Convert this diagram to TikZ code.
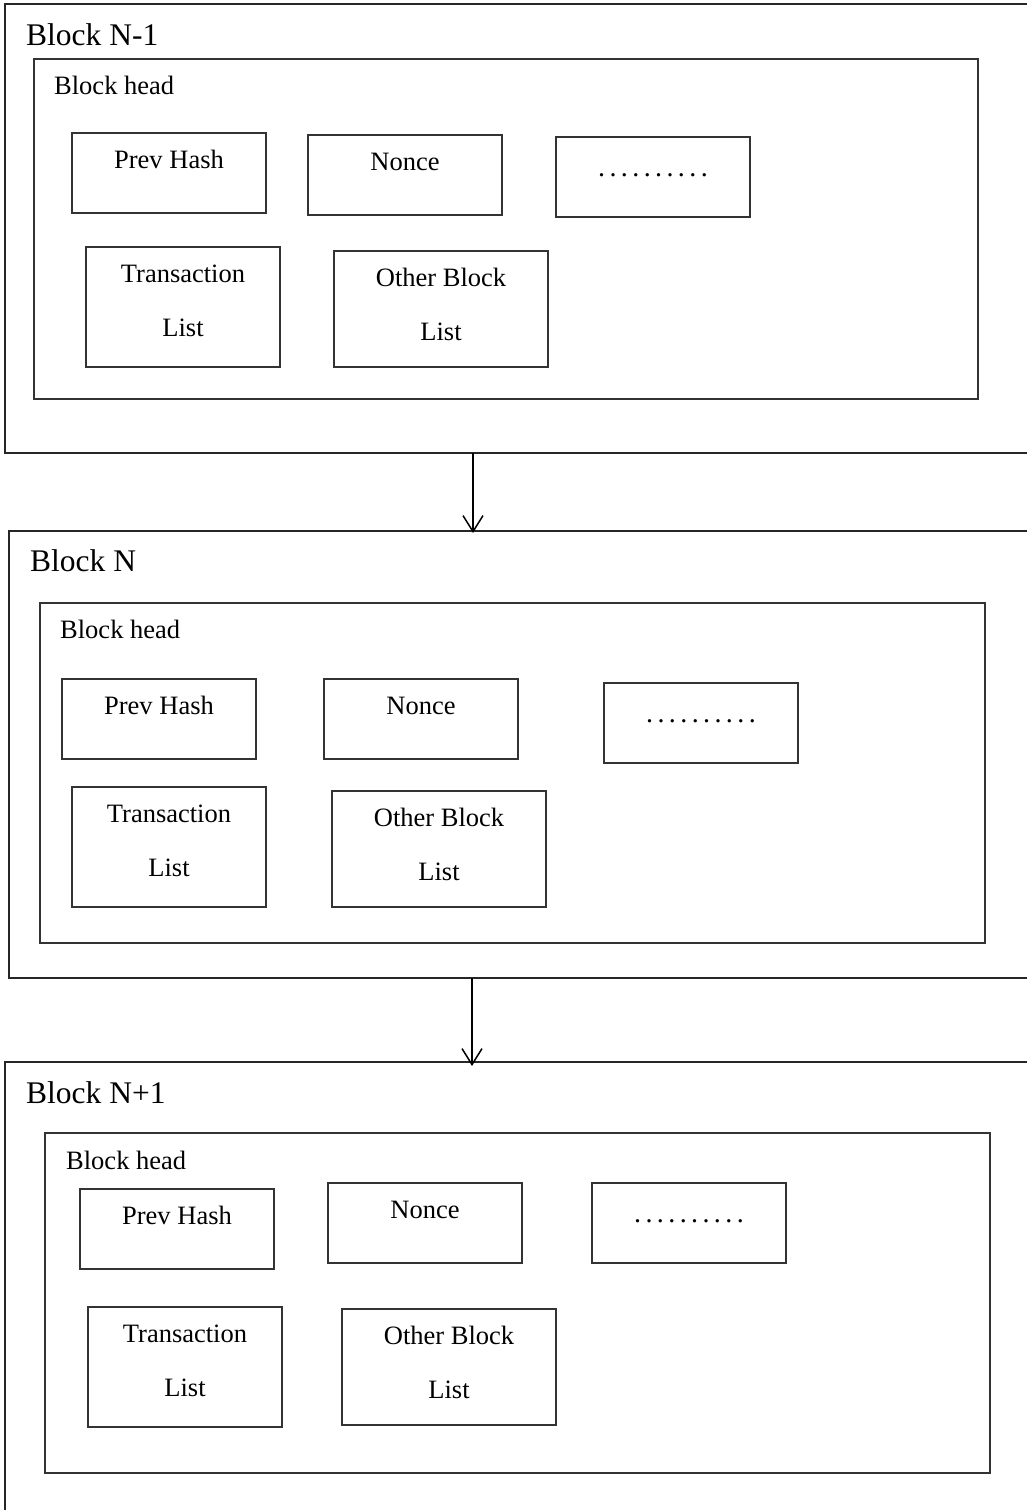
\documentclass[tikz,border=0pt]{standalone}
\usepackage{fontspec}
\setmainfont{Liberation Serif}
\usetikzlibrary{arrows.meta}
\newcommand\mydots{.\kern4.4pt.\kern4.4pt.\kern4.4pt.\kern4.4pt.\kern4.4pt.\kern4.4pt.\kern4.4pt.\kern4.4pt.\kern4.4pt.}
\newcommand\twolines[2]{\begin{tabular}[t]{@{}c@{}}#1\\#2\end{tabular}}
\begin{document}
\begin{tikzpicture}[x=1pt,y=-1pt,
 outerbox/.style={draw=black!85, line width=1.3pt, anchor=north west, inner sep=0pt, outer sep=0pt},
 headbox/.style={draw=black!80, line width=1.1pt, anchor=north west, inner sep=0pt, outer sep=0pt, minimum width=945pt, minimum height=340pt},
 field/.style={draw=black!80, line width=1.1pt, anchor=north west, minimum width=194pt, minimum height=80pt, inner sep=0pt, outer sep=0pt},
 listbox/.style={field, minimum height=120pt},
 otherbox/.style={field, minimum width=214pt, minimum height=116pt},
 title/.style={anchor=base west, inner sep=0pt, font=\fontsize{31.5}{38}\selectfont},
 headtext/.style={anchor=base west, inner sep=0pt, font=\fontsize{26.5}{32}\selectfont},
 ftext/.style={anchor=base, inner sep=0pt, font=\fontsize{26.5}{54}\selectfont},
 dotstext/.style={anchor=base, inner sep=0pt, font=\fontsize{28}{34}\selectfont},
 arr/.style={line width=1.5pt, -{Straight Barb[length=16pt,width=20pt,line width=1.5pt]}}
]
\useasboundingbox (0,0) rectangle (1027,1510);

% ---------- Block N-1 ----------
\node[outerbox, minimum width=1040pt, minimum height=449pt] (b1) at (5,4) {};
\node[title] (b1t) at (26,45) {Block N-1};
\node[headbox, minimum width=944pt] (h1) at (34,59) {};
\node[headtext] (h1t) at (54,94) {Block head};
\node[field] (p1) at (72,133) {};
\node[ftext] (p1t) at ([yshift=-35.5pt]p1.north) {Prev Hash};
\node[field] (n1) at (308,135) {};
\node[ftext] (n1t) at ([yshift=-35.5pt]n1.north) {Nonce};
\node[field] (d1) at (556,137) {};
\node[dotstext] (d1t) at ([yshift=-39.5pt]d1.north) {\mydots};
\node[listbox] (t1) at (86,247) {};
\node[ftext] (t1t) at ([yshift=-35.5pt]t1.north) {\twolines{Transaction}{List}};
\node[otherbox] (o1) at (334,251) {};
\node[ftext] (o1t) at ([yshift=-35.5pt]o1.north) {\twolines{Other Block}{List}};

% ---------- Block N ----------
\node[outerbox, minimum width=1040pt, minimum height=447pt] (b2) at (9,531) {};
\node[title] (b2t) at (30,571) {Block N};
\node[headbox] (h2) at (40,603) {};
\node[headtext] (h2t) at (60,638) {Block head};
\node[field] (p2) at (62,679) {};
\node[ftext] (p2t) at ([yshift=-35.5pt]p2.north) {Prev Hash};
\node[field] (n2) at (324,679) {};
\node[ftext] (n2t) at ([yshift=-35.5pt]n2.north) {Nonce};
\node[field] (d2) at (604,683) {};
\node[dotstext] (d2t) at ([yshift=-39.5pt]d2.north) {\mydots};
\node[listbox] (t2) at (72,787) {};
\node[ftext] (t2t) at ([yshift=-35.5pt]t2.north) {\twolines{Transaction}{List}};
\node[otherbox] (o2) at (332,791) {};
\node[ftext] (o2t) at ([yshift=-35.5pt]o2.north) {\twolines{Other Block}{List}};

% ---------- Block N+1 ----------
\node[outerbox, minimum width=1040pt, minimum height=470pt] (b3) at (5,1062) {};
\node[title] (b3t) at (26,1103) {Block N+1};
\node[headbox] (h3) at (45,1133) {};
\node[headtext] (h3t) at (66,1169) {Block head};
\node[field] (p3) at (80,1189) {};
\node[ftext] (p3t) at ([yshift=-35.5pt]p3.north) {Prev Hash};
\node[field] (n3) at (328,1183) {};
\node[ftext] (n3t) at ([yshift=-35.5pt]n3.north) {Nonce};
\node[field] (d3) at (592,1183) {};
\node[dotstext] (d3t) at ([yshift=-39.5pt]d3.north) {\mydots};
\node[listbox] (t3) at (88,1307) {};
\node[ftext] (t3t) at ([yshift=-35.5pt]t3.north) {\twolines{Transaction}{List}};
\node[otherbox] (o3) at (342,1309) {};
\node[ftext] (o3t) at ([yshift=-35.5pt]o3.north) {\twolines{Other Block}{List}};

% ---------- connectors ----------
\coordinate (ax1) at (473,0);
\coordinate (ax2) at (472,0);
\draw[arr, shorten >=-2pt] (b1.south -| ax1) -- (b2.north -| ax1);
\draw[arr, shorten >=-4pt] (b2.south -| ax2) -- (b3.north -| ax2);
\end{tikzpicture}
\end{document}
